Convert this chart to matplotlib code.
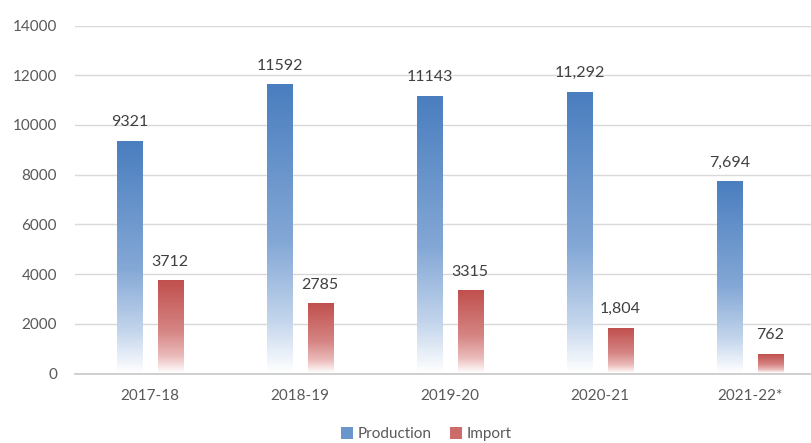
import matplotlib.pyplot as plt
import numpy as np
from matplotlib.colors import LinearSegmentedColormap
from matplotlib.patches import Patch

years = ['2017-18', '2018-19', '2019-20', '2020-21', '2021-22*']
production = [9321, 11592, 11143, 11292, 7694]
imports = [3712, 2785, 3315, 1804, 762]
prod_labels = ['9321', '11592', '11143', '11,292', '7,694']
imp_labels = ['3712', '2785', '3315', '1,804', '762']

plt.rcParams['font.family'] = ['Lato', 'DejaVu Sans']

fig = plt.figure(figsize=(8.11, 4.43), dpi=100)
ax = fig.add_axes([75 / 811, 69.5 / 443, 750 / 811, 348 / 443])

blue_cm = LinearSegmentedColormap.from_list(
    'b', [(0, '#4a7ebf'), (0.55, '#84a8d6'), (0.82, '#c3d5ec'), (1, '#ffffff')])
red_cm = LinearSegmentedColormap.from_list(
    'r', [(0, '#c0504d'), (0.55, '#d58584'), (0.82, '#ebbcbb'), (1, '#ffffff')])

x = np.arange(len(years))
w = 0.1667
off = 0.135
b1 = ax.bar(x - off, production, w, color='none', zorder=3)
b2 = ax.bar(x + off, imports, w, color='none', zorder=3)

# gradient fill, dark at the top of each bar fading to white at the base
grad = np.linspace(0, 1, 256).reshape(-1, 1)
for bars, cm in ((b1, blue_cm), (b2, red_cm)):
    for b in bars:
        x0 = b.get_x()
        h = b.get_height()
        ax.imshow(grad, cmap=cm, aspect='auto', origin='upper',
                  extent=(x0, x0 + b.get_width(), 0, h), zorder=3)

for bars, labs in ((b1, prod_labels), (b2, imp_labels)):
    for b, t in zip(bars, labs):
        ax.annotate(t, (b.get_x() + b.get_width() / 2, b.get_height()),
                    xytext=(0, 9), textcoords='offset points',
                    ha='center', va='bottom', fontsize=11.5, color='#404040')

ax.set_xlim(-0.5, len(years) - 0.5)
ax.set_ylim(0, 14000)
ax.set_yticks(range(0, 14001, 2000))
ax.set_xticks(x)
ax.set_xticklabels(years)
ax.tick_params(axis='both', length=0, labelsize=11, labelcolor='#595959')
ax.tick_params(axis='y', pad=13)
ax.tick_params(axis='x', pad=11)
ax.grid(axis='y', color='#d9d9d9', linewidth=1, zorder=0)
ax.set_axisbelow(True)
for s in ['top', 'right', 'left']:
    ax.spines[s].set_visible(False)
ax.spines['bottom'].set_color('#c8c8c8')
ax.spines['bottom'].set_linewidth(1.2)

handles = [Patch(facecolor='#6a96cc', label='Production'),
           Patch(facecolor='#cc6b69', label='Import')]
fig.legend(handles=handles, loc='center', bbox_to_anchor=(426 / 811, 1 - 434 / 443),
           ncol=2, frameon=False, fontsize=11, handlelength=0.8, handleheight=0.8,
           handletextpad=0.3, columnspacing=1.2, labelcolor='#595959',
           borderpad=0.1)

fig.savefig('out.png', dpi=100)
